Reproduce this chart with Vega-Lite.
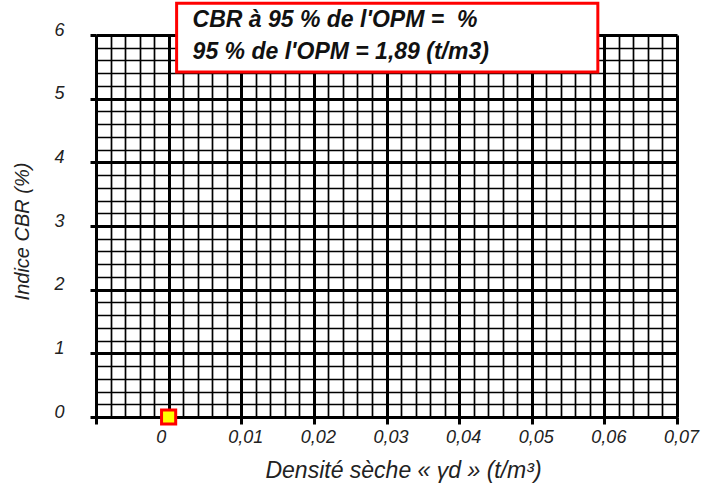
{
  "$schema": "https://vega.github.io/schema/vega-lite/v6.json",
  "width": 581,
  "height": 382,
  "autosize": {"type": "none"},
  "padding": {"left": 96, "top": 35, "right": 31, "bottom": 69},
  "background": "white",
  "config": {
    "view": {"stroke": null},
    "font": "Liberation Sans"
  },
  "data": {"values": [{"densite": 0, "cbr": 0}]},
  "layer": [
    {
      "mark": {"type": "point", "shape": "square", "filled": true, "fill": "#ffff00", "stroke": "#ff0000", "strokeWidth": 3, "size": 200, "opacity": 1, "clip": false},
      "encoding": {
        "x": {
          "field": "densite", "type": "quantitative",
          "scale": {"domain": [-0.01, 0.07], "nice": false, "zero": false},
          "axis": {
            "values": [-0.01,-0.008,-0.006,-0.004,-0.002,0,0.002,0.004,0.006,0.008,0.01,0.012,0.014,0.016,0.018,0.02,0.022,0.024,0.026,0.028,0.03,0.032,0.034,0.036,0.038,0.04,0.042,0.044,0.046,0.048,0.05,0.052,0.054,0.056,0.058,0.06,0.062,0.064,0.066,0.068,0.07],
            "tickCount": 200,
            "grid": true,
            "gridColor": "black",
            "gridOpacity": 1,
            "gridWidth": {"condition": {"test": "abs(datum.value*100 - round(datum.value*100)) < 0.001", "value": 3}, "value": 1.7},
            "ticks": true,
            "tickColor": "black",
            "tickWidth": 3,
            "tickSize": {"condition": {"test": "abs(datum.value*100 - round(datum.value*100)) < 0.001", "value": 7}, "value": 0},
            "domain": true,
            "domainColor": "black",
            "domainWidth": 3,
            "labelExpr": "abs(datum.value*100 - round(datum.value*100)) < 0.001 && datum.value > -0.005 ? (abs(datum.value) < 0.0001 ? '0' : replace(format(datum.value, '.2f'), '.', ',')) : ''",
            "labelOverlap": false,
            "labelFlush": false,
            "labelBound": false,
            "labelFont": "Liberation Sans",
            "labelFontStyle": "italic",
            "labelFontSize": 18,
            "labelColor": "#222",
            "labelPadding": 4,
            "labelOffset": {"condition": {"test": "abs(datum.value) < 0.0001", "value": -8}, "value": 4},
            "title": "Densité sèche « γd » (t/m³)",
            "titleFont": "Liberation Sans",
            "titleFontStyle": "italic",
            "titleFontWeight": "normal",
            "titleFontSize": 23,
            "titleColor": "#222",
            "titleX": 307,
            "titleY": 53,
            "titleBaseline": "middle",
            "titleAnchor": null
          }
        },
        "y": {
          "field": "cbr", "type": "quantitative",
          "scale": {"domain": [0, 6], "nice": false, "zero": false},
          "axis": {
            "values": [0,0.2,0.4,0.6,0.8,1,1.2,1.4,1.6,1.8,2,2.2,2.4,2.6,2.8,3,3.2,3.4,3.6,3.8,4,4.2,4.4,4.6,4.8,5,5.2,5.4,5.6,5.8,6],
            "tickCount": 200,
            "grid": true,
            "gridColor": "black",
            "gridOpacity": 1,
            "gridWidth": {"condition": {"test": "abs(datum.value - round(datum.value)) < 0.001", "value": 3}, "value": 1.7},
            "ticks": true,
            "tickColor": "black",
            "tickWidth": 3,
            "tickSize": {"condition": {"test": "abs(datum.value - round(datum.value)) < 0.001", "value": 6}, "value": 0},
            "domain": true,
            "domainColor": "black",
            "domainWidth": 3,
            "labelExpr": "abs(datum.value - round(datum.value)) < 0.001 ? format(datum.value, 'd') : ''",
            "labelOverlap": false,
            "labelFlush": false,
            "labelBound": false,
            "labelFont": "Liberation Sans",
            "labelFontStyle": "italic",
            "labelFontSize": 18,
            "labelColor": "#222",
            "labelPadding": 26,
            "labelOffset": -5,
            "title": "Indice CBR (%)",
            "titleFont": "Liberation Sans",
            "titleFontStyle": "italic",
            "titleFontWeight": "normal",
            "titleFontSize": 20,
            "titleColor": "#222",
            "titleX": -74,
            "titleY": 196,
            "titleAngle": -90,
            "titleBaseline": "middle",
            "titleAnchor": null
          }
        }
      }
    },
    {
      "mark": {"type": "rect", "fill": "white", "stroke": "#ff0000", "strokeWidth": 3, "clip": false},
      "encoding": {
        "x": {"datum": 0.0011, "type": "quantitative"},
        "x2": {"datum": 0.0591},
        "y": {"datum": 6.5, "type": "quantitative"},
        "y2": {"datum": 5.42}
      }
    },
    {
      "mark": {"type": "text", "align": "left", "baseline": "middle", "font": "Liberation Sans", "fontStyle": "italic", "fontWeight": "bold", "fontSize": 23, "color": "#111", "clip": false},
      "encoding": {
        "x": {"datum": 0.0033, "type": "quantitative"},
        "y": {"datum": 6.235, "type": "quantitative"},
        "text": {"value": "CBR à 95 % de l'OPM = \u00a0%"}
      }
    },
    {
      "mark": {"type": "text", "align": "left", "baseline": "middle", "font": "Liberation Sans", "fontStyle": "italic", "fontWeight": "bold", "fontSize": 23, "color": "#111", "clip": false},
      "encoding": {
        "x": {"datum": 0.0033, "type": "quantitative"},
        "y": {"datum": 5.73, "type": "quantitative"},
        "text": {"value": "95 % de l'OPM = 1,89 (t/m3)"}
      }
    }
  ]
}
